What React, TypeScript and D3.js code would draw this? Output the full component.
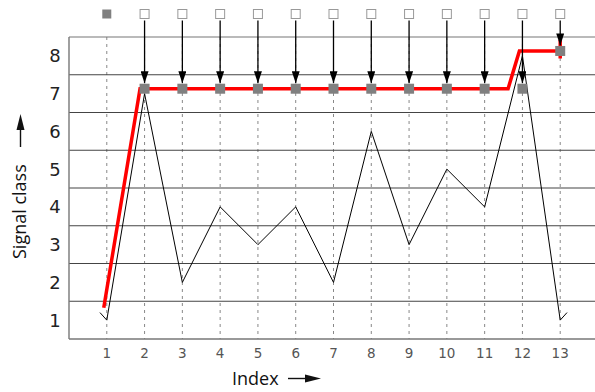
import React from 'react';
import * as d3 from 'd3';

// signal classes per index (black line); first/last entries are the short end ticks
const signalIdx = [0.82, 1, 2, 3, 4, 5, 6, 7, 8, 9, 10, 11, 12, 13, 13.18];
const signalVal = [1.2, 1, 7, 2, 4, 3, 4, 2, 6, 3, 5, 4, 8, 1, 1.2];

// decoded class (red line)
const decodedIdx = [0.92, 1.88, 11.62, 11.92, 13, 13, 13];
const decodedVal = [1.2, 7, 7, 8, 8, 8.3, 7.8];

// detected class markers with arrows from the top row
const markerIdx = [2, 3, 4, 5, 6, 7, 8, 9, 10, 11, 12, 13];
const markerVal = [7, 7, 7, 7, 7, 7, 7, 7, 7, 7, 7, 8];

const topIdx = [1, 2, 3, 4, 5, 6, 7, 8, 9, 10, 11, 12, 13];
const topFilled = [true, false, false, false, false, false, false, false, false, false, false, false, false];

const classTicks = [1, 2, 3, 4, 5, 6, 7, 8];
const bandEdges = [0.5, 1.5, 2.5, 3.5, 4.5, 5.5, 6.5, 7.5, 8.5];

const W = 595;
const H = 392;

export default function App() {
  const x = d3.scaleLinear().domain([0, 14]).range([69, 598]);
  const y = d3.scaleLinear().domain([0.5, 8.5]).range([339, 37]);
  const lift = 0.13; // decoded marks sit slightly above band centre

  const signalLine = d3
    .line<number>()
    .x((_, i) => x(signalIdx[i]))
    .y((d) => y(d));
  const decodedLine = d3
    .line<number>()
    .x((_, i) => x(decodedIdx[i]))
    .y((d) => y(d + lift));

  const topY = 14;
  const sq = 9;

  return (
    <svg
      width={W}
      height={H}
      style={{ position: 'fixed', left: 0, top: 0, background: '#fff' }}
      fontFamily="DejaVu Sans, sans-serif"
    >
      <defs>
        <marker id="ah" viewBox="0 0 12 8" refX="12" refY="4" markerWidth="12" markerHeight="8" orient="auto" markerUnits="userSpaceOnUse">
          <path d="M0,0 L12,4 L0,8 Z" fill="#000" />
        </marker>
      </defs>

      {/* vertical dotted grid */}
      {topIdx.map((i) => (
        <line key={'v' + i} x1={x(i)} x2={x(i)} y1={y(8.5)} y2={y(0.5)} stroke="#888" strokeWidth={1} strokeDasharray="3,4" />
      ))}

      {/* horizontal band lines */}
      {bandEdges.map((b, k) => (
        <line
          key={'h' + b}
          x1={x(0)}
          x2={W}
          y1={y(b)}
          y2={y(b)}
          stroke={k === 0 || k === bandEdges.length - 1 ? '#777' : '#444'}
          strokeWidth={k === 0 ? 1.6 : 1.2}
        />
      ))}
      <line x1={x(0)} x2={x(0)} y1={y(8.5)} y2={y(0.5)} stroke="#777" strokeWidth={1.4} />

      {/* y tick labels */}
      {classTicks.map((c) => (
        <text key={'yl' + c} x={55} y={y(c)} dy="0.36em" textAnchor="middle" fontSize={18} fill="#222">
          {c}
        </text>
      ))}

      {/* x tick labels */}
      {topIdx.map((i) => (
        <text key={'xl' + i} x={x(i)} y={358} textAnchor="middle" fontSize={13.5} fill="#555">
          {i}
        </text>
      ))}

      {/* signal (black) */}
      <path d={signalLine(signalVal) || ''} fill="none" stroke="#000" strokeWidth={1} />

      {/* decoded (red) */}
      <path d={decodedLine(decodedVal) || ''} fill="none" stroke="#f00" strokeWidth={3.5} strokeLinejoin="miter" />

      {/* arrows */}
      {markerIdx.map((i, k) => (
        <line
          key={'a' + i}
          x1={x(i)}
          x2={x(i)}
          y1={topY + sq / 2 + 2}
          y2={y(markerVal[k] + lift) - sq / 2 - 1}
          stroke="#000"
          strokeWidth={1.3}
          markerEnd="url(#ah)"
        />
      ))}

      {/* in-plot markers */}
      {markerIdx.map((i, k) => (
        <rect key={'m' + i} x={x(i) - 5} y={y(markerVal[k] + lift) - 5} width={10} height={10} fill="#808080" />
      ))}

      {/* top row squares */}
      {topIdx.map((i, k) => (
        <rect
          key={'t' + i}
          x={x(i) - sq / 2}
          y={topY - sq / 2}
          width={sq}
          height={sq}
          fill={topFilled[k] ? '#808080' : '#fff'}
          stroke={topFilled[k] ? 'none' : '#999'}
          strokeWidth={1}
        />
      ))}

      {/* axis titles */}
      <text x={232} y={385} fontSize={18} fontFamily="Open Sans, sans-serif" fill="#111">
        Index
      </text>
      <line x1={288} x2={308} y1={378.5} y2={378.5} stroke="#111" strokeWidth={1.4} />
      <path d="M305,374.5 L321,378.5 L305,382.5 Z" fill="#111" />

      <g transform="translate(26,259) rotate(-90)">
        <text x={0} y={0} fontSize={18} fontFamily="Open Sans, sans-serif" fill="#111">
          Signal class
        </text>
        <line x1={112} x2={132} y1={-5.5} y2={-5.5} stroke="#111" strokeWidth={1.4} />
        <path d="M129,-9.5 L145,-5.5 L129,-1.5 Z" fill="#111" />
      </g>
    </svg>
  );
}
